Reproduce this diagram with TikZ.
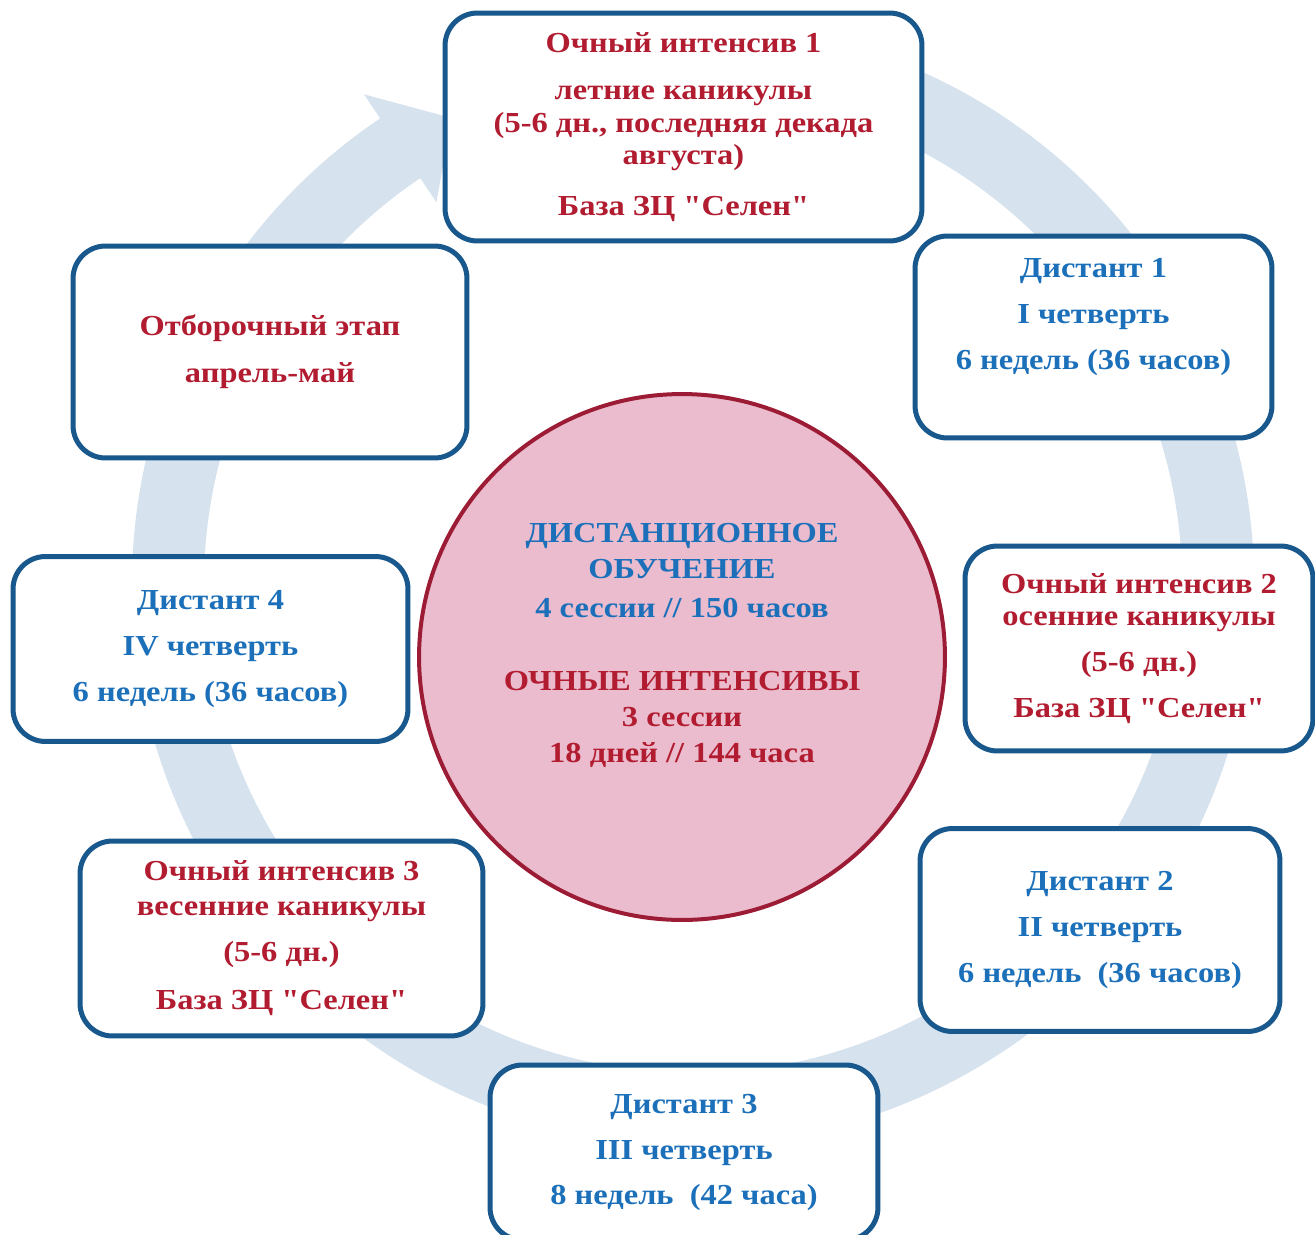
\documentclass[tikz,border=0pt]{standalone}
\usepackage{fontspec}
\setmainfont{Liberation Serif}[Ligatures=TeXOff, FakeStretch=1.12]
\usetikzlibrary{calc}
\definecolor{boxblue}{RGB}{24,88,140}
\definecolor{redtext}{RGB}{178,28,48}
\definecolor{bluetext}{RGB}{28,112,186}
\definecolor{pinkfill}{RGB}{234,188,205}
\definecolor{circred}{RGB}{155,28,52}
\definecolor{ringblue}{RGB}{214,226,238}

\begin{document}
\begin{tikzpicture}[
  x=0.02cm, y=-0.02cm,
  stage/.style={
    rectangle, rounded corners=0.65cm, line width=0.1cm,
    draw=boxblue, fill=white, align=center,
    font=\rmfamily\fontsize{16.5}{18.7}\selectfont\bfseries
  },
  redtxt/.style={text=redtext},
  bluetxt/.style={text=bluetext},
  plain/.style={align=center, font=\rmfamily\fontsize{16.5}{18.7}\selectfont\bfseries},
  core/.style={
    circle, line width=0.08cm, draw=circred, fill=pinkfill,
    minimum size=10.52cm
  },
  ring/.style={draw=ringblue, line width=1.44cm}
]
\useasboundingbox (0,0) rectangle (1315,1234);

% ---- background cycle arrow ----
\coordinate (ringc) at (693,584);
\draw[ring] ($(ringc)+(-80:525)$) arc[start angle=-80, end angle=236.6, radius=525];
\fill[ringblue] ($(ringc)+(236.1:590)$) -- ($(ringc)+(242.6:525)$)
  -- ($(ringc)+(236.1:460)$) -- cycle;

% ---- stages round the year ----
\node[stage, redtxt, minimum width=9.54cm, minimum height=4.56cm] (int1) at (683.5,127)
  {Очный интенсив 1\\[8pt]
   летние каникулы\\
   (5-6 дн., последняя декада\\
   августа)\\[10pt]
   База ЗЦ "Селен"};

\node[stage, minimum width=7.14cm, minimum height=4.04cm] (dist1) at (1093.5,337) {};
\node[plain, bluetxt] (dist1txt) at (1093.5,317)
  {Дистант 1\\[7.4pt] I четверть\\[7.4pt] 6 недель (36 часов)};

\node[stage, redtxt, minimum width=7.88cm, minimum height=4.24cm] (select) at (270,352)
  {Отборочный этап\\[8pt] апрель-май};

\node[stage, redtxt, minimum width=6.96cm, minimum height=4.10cm] (int2) at (1139,648.5)
  {Очный интенсив 2\\ осенние каникулы\\[7.4pt] (5-6 дн.)\\[7.4pt] База ЗЦ "Селен"};

\node[stage, bluetxt, minimum width=7.90cm, minimum height=3.70cm] (dist4) at (210.5,649)
  {Дистант 4\\[7.4pt] IV четверть\\[7.4pt] 6 недель (36 часов)};

\node[stage, redtxt, minimum width=8.06cm, minimum height=3.90cm] (int3) at (281.5,938.5)
  {Очный интенсив 3\\[1pt] весенние каникулы\\[7.4pt] (5-6 дн.)\\[9pt] База ЗЦ "Селен"};

\node[stage, bluetxt, minimum width=7.20cm, minimum height=4.06cm] (dist2) at (1100,930)
  {Дистант 2\\[7.4pt] II четверть\\[7.4pt] 6 недель\ \ (36 часов)};

\node[stage, bluetxt, minimum width=7.76cm, minimum height=3.50cm] (dist3) at (684,1152.5)
  {Дистант 3\\[7.4pt] III четверть\\[7.4pt] 8 недель\ \ (42 часа)};

% ---- centre ----
\node[core] (centre) at (682,657) {};
\node[plain, bluetxt, font=\rmfamily\fontsize{16.5}{20.4}\selectfont\bfseries] (centretxt) at (682,645.5)
  {ДИСТАНЦИОННОЕ\\ ОБУЧЕНИЕ\\[2pt] 4 сессии // 150 часов\\[21pt]
   \textcolor{redtext}{ОЧНЫЕ ИНТЕНСИВЫ}\\ \textcolor{redtext}{3 сессии}\\
   \textcolor{redtext}{18 дней // 144 часа}};

\end{tikzpicture}
\end{document}
